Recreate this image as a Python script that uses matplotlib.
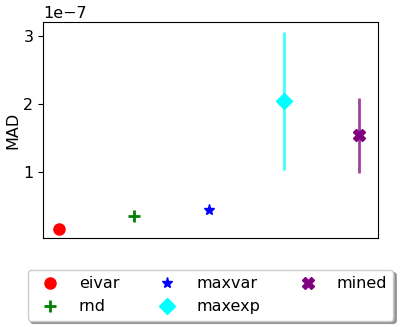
import matplotlib
matplotlib.use("Agg")
import matplotlib.pyplot as plt
from matplotlib.ticker import MultipleLocator

# methods and their MAD summary (mean and spread)
methods = ['eivar', 'rnd', 'maxvar', 'maxexp', 'mined']
mad = [0.16e-7, 0.35e-7, 0.44e-7, 2.04e-7, 1.54e-7]
err = [0.0, 0.0, 0.0, 1.01e-7, 0.55e-7]
colors = ['red', 'green', 'blue', 'cyan', 'purple']
markers = ['o', '+', '*', 'D', 'X']

plt.rcParams['font.size'] = 11.5

fig, ax = plt.subplots(figsize=(4.0, 3.27), dpi=100)
for i, m in enumerate(methods):
    # error bar first, then the marker on top
    if err[i] > 0:
        ax.errorbar(i, mad[i], yerr=err[i], color=colors[i], linestyle='none',
                    elinewidth=2, alpha=0.75)
    ax.plot(i, mad[i], color=colors[i], marker=markers[i], markersize=8,
            linestyle='none', mew=2 if markers[i] == '+' else 1, label=m)

ax.set_xticks([])
ax.yaxis.set_major_locator(MultipleLocator(1e-7))
ax.set_ylabel('MAD', labelpad=2)
ax.set_ylim(0.03e-7, 3.2e-7)
ax.set_xlim(-0.21, 4.25)
ax.legend(loc='upper center', bbox_to_anchor=(0.5, -0.11), ncol=3,
          fancybox=True, shadow=True)
fig.subplots_adjust(left=0.108, right=0.945, top=0.933, bottom=0.272)
fig.savefig('out.png')
